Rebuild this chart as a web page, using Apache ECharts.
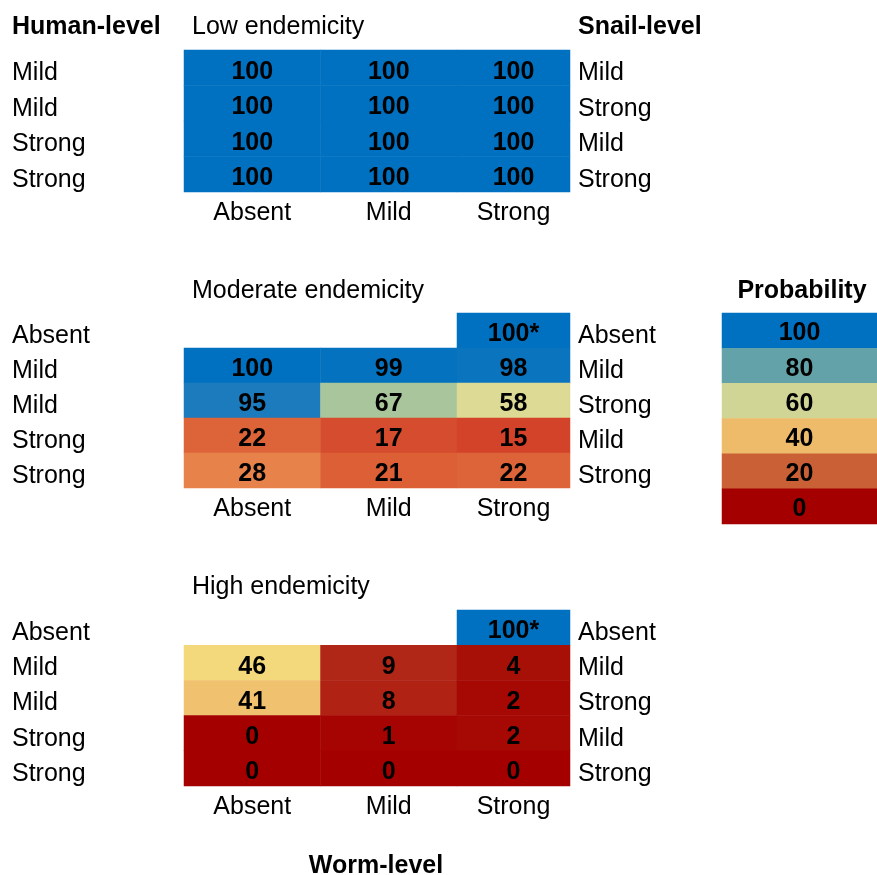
<!DOCTYPE html>
<html>
<head>
<meta charset="utf-8">
<script src="https://cdn.jsdelivr.net/npm/echarts@6/dist/echarts.min.js"></script>
<style>
  html, body { margin: 0; padding: 0; background: #ffffff; }
  #chart { width: 877px; height: 875px; }
</style>
</head>
<body>
<div id="chart"></div>
<script>
// Worm-level categories (columns of every panel)
const wormLevels = ['Absent', 'Mild', 'Strong'];

// Low endemicity
const humanLow = ['Mild', 'Mild', 'Strong', 'Strong'];
const snailLow = ['Mild', 'Strong', 'Mild', 'Strong'];
const lowValues = [
  [100, 100, 100],
  [100, 100, 100],
  [100, 100, 100],
  [100, 100, 100]
];

// Moderate and high endemicity share the same row layout
const humanModHigh = ['Absent', 'Mild', 'Mild', 'Strong', 'Strong'];
const snailModHigh = ['Absent', 'Mild', 'Strong', 'Mild', 'Strong'];
const moderateValues = [
  [null, null, 100],
  [100, 99, 98],
  [95, 67, 58],
  [22, 17, 15],
  [28, 21, 22]
];
const highValues = [
  [null, null, 100],
  [46, 9, 4],
  [41, 8, 2],
  [0, 1, 2],
  [0, 0, 0]
];

// Probability key
const legendLevels = [100, 80, 60, 40, 20, 0];

const FONT = '"Liberation Sans", Arial, sans-serif';
const TEXT_SIZE = 25;

const panels = [
  { title: 'Low endemicity', human: humanLow, snail: snailLow, values: lowValues, top: 50, height: 142, titleTop: 13 },
  { title: 'Moderate endemicity', human: humanModHigh, snail: snailModHigh, values: moderateValues, top: 313, height: 175, titleTop: 277 },
  { title: 'High endemicity', human: humanModHigh, snail: snailModHigh, values: highValues, top: 610, height: 176, titleTop: 573 }
];

function heading(text, left, top, bold, align) {
  return {
    text: text, left: left, top: top, padding: 0,
    textAlign: align || 'left',
    textStyle: {
      fontFamily: FONT, fontSize: TEXT_SIZE, color: '#000',
      fontWeight: bold ? 'bold' : 'normal', lineHeight: 28
    }
  };
}

const grids = [], xAxes = [], yAxes = [], series = [];
const titles = [
  heading('Human-level', 12, 13, true),
  heading('Snail-level', 578, 13, true),
  heading('Probability', 802, 277, true, 'center'),
  heading('Worm-level', 376, 852, true, 'center')
];

const hiddenAxisParts = {
  axisLine: { show: false },
  axisTick: { show: false },
  splitLine: { show: false },
  splitArea: { show: false }
};
// Row labels sit a little below the row centre
const rowLabelText = { fontFamily: FONT, fontSize: TEXT_SIZE, color: '#000', verticalAlign: 'top', lineHeight: 11 };
const colLabelText = { fontFamily: FONT, fontSize: TEXT_SIZE, color: '#000' };

function cellLabel(rows) {
  return {
    show: true,
    fontFamily: FONT,
    fontSize: TEXT_SIZE,
    fontWeight: 'bold',
    color: '#000',
    offset: [0, 4],
    formatter: p => p.value[2] + (rows[p.value[1]] === 'Absent' ? '*' : '')
  };
}

panels.forEach((panel) => {
  titles.push(heading(panel.title, 192, panel.titleTop, false));

  // Grid A holds the Absent and Mild columns, grid B the narrower Strong column
  const gA = grids.length;
  grids.push({ left: 184, top: panel.top, width: 273, height: panel.height });
  grids.push({ left: 457, top: panel.top, width: 113, height: panel.height });

  xAxes.push(Object.assign({
    type: 'category', gridIndex: gA, position: 'bottom',
    data: wormLevels.slice(0, 2),
    axisLabel: Object.assign({ margin: 9 }, colLabelText)
  }, hiddenAxisParts));
  xAxes.push(Object.assign({
    type: 'category', gridIndex: gA + 1, position: 'bottom',
    data: wormLevels.slice(2),
    axisLabel: Object.assign({ margin: 9 }, colLabelText)
  }, hiddenAxisParts));

  yAxes.push(Object.assign({
    type: 'category', gridIndex: gA, position: 'left', inverse: true,
    data: panel.human,
    axisLabel: Object.assign({ margin: 172, align: 'left' }, rowLabelText)
  }, hiddenAxisParts));
  yAxes.push(Object.assign({
    type: 'category', gridIndex: gA + 1, position: 'right', inverse: true,
    data: panel.snail,
    axisLabel: Object.assign({ margin: 8, align: 'left' }, rowLabelText)
  }, hiddenAxisParts));

  const dataA = [], dataB = [];
  panel.values.forEach((row, r) => {
    row.forEach((v, c) => {
      if (v === null) return;
      if (c < 2) dataA.push([c, r, v]);
      else dataB.push([0, r, v]);
    });
  });

  series.push({
    type: 'heatmap', xAxisIndex: gA, yAxisIndex: gA, data: dataA,
    label: cellLabel(panel.human), emphasis: { disabled: true }, progressive: 0
  });
  series.push({
    type: 'heatmap', xAxisIndex: gA + 1, yAxisIndex: gA + 1, data: dataB,
    label: cellLabel(panel.human), emphasis: { disabled: true }, progressive: 0
  });
});

// Probability key column
const gL = grids.length;
grids.push({ left: 722, top: 313, width: 160, height: 211 });
xAxes.push(Object.assign({ type: 'category', gridIndex: gL, data: [''], axisLabel: { show: false } }, hiddenAxisParts));
yAxes.push(Object.assign({ type: 'category', gridIndex: gL, inverse: true, data: legendLevels.map(String), axisLabel: { show: false } }, hiddenAxisParts));
series.push({
  type: 'heatmap', xAxisIndex: gL, yAxisIndex: gL,
  data: legendLevels.map((v, i) => [0, i, v]),
  label: {
    show: true, fontFamily: FONT, fontSize: TEXT_SIZE, fontWeight: 'bold', color: '#000',
    offset: [0, 3], formatter: p => String(p.value[2])
  },
  emphasis: { disabled: true }, progressive: 0
});

const cellSeries = series.map((s, i) => i).filter(i => i !== series.length - 1);

const option = {
  backgroundColor: '#ffffff',
  animation: false,
  title: titles,
  grid: grids,
  xAxis: xAxes,
  yAxis: yAxes,
  visualMap: [
    {
      type: 'continuous', show: false, min: 0, max: 100, dimension: 2,
      seriesIndex: cellSeries,
      inRange: {
        color: [
          '#a50000', '#a81409', '#b32c1b', '#d3432a', '#da5a33', '#e2743f',
          '#e88b52', '#eba35e', '#eebb6b', '#f6d77a', '#eedb85', '#e3dc90',
          '#d8d997', '#b1c99a', '#9bbf9c', '#7eb0a2', '#62a0a8', '#4690b0',
          '#2a82b8', '#1b7bbd', '#0070c0'
        ]
      }
    },
    {
      type: 'piecewise', show: false, dimension: 2,
      seriesIndex: series.length - 1,
      pieces: [
        { value: 100, color: '#0070c0' },
        { value: 80, color: '#64a2a9' },
        { value: 60, color: '#d0d596' },
        { value: 40, color: '#eebb6a' },
        { value: 20, color: '#c96036' },
        { value: 0, color: '#a50000' }
      ]
    }
  ],
  series: series
};

const chart = echarts.init(document.getElementById('chart'), null, { renderer: 'canvas' });
chart.setOption(option);
</script>
</body>
</html>
